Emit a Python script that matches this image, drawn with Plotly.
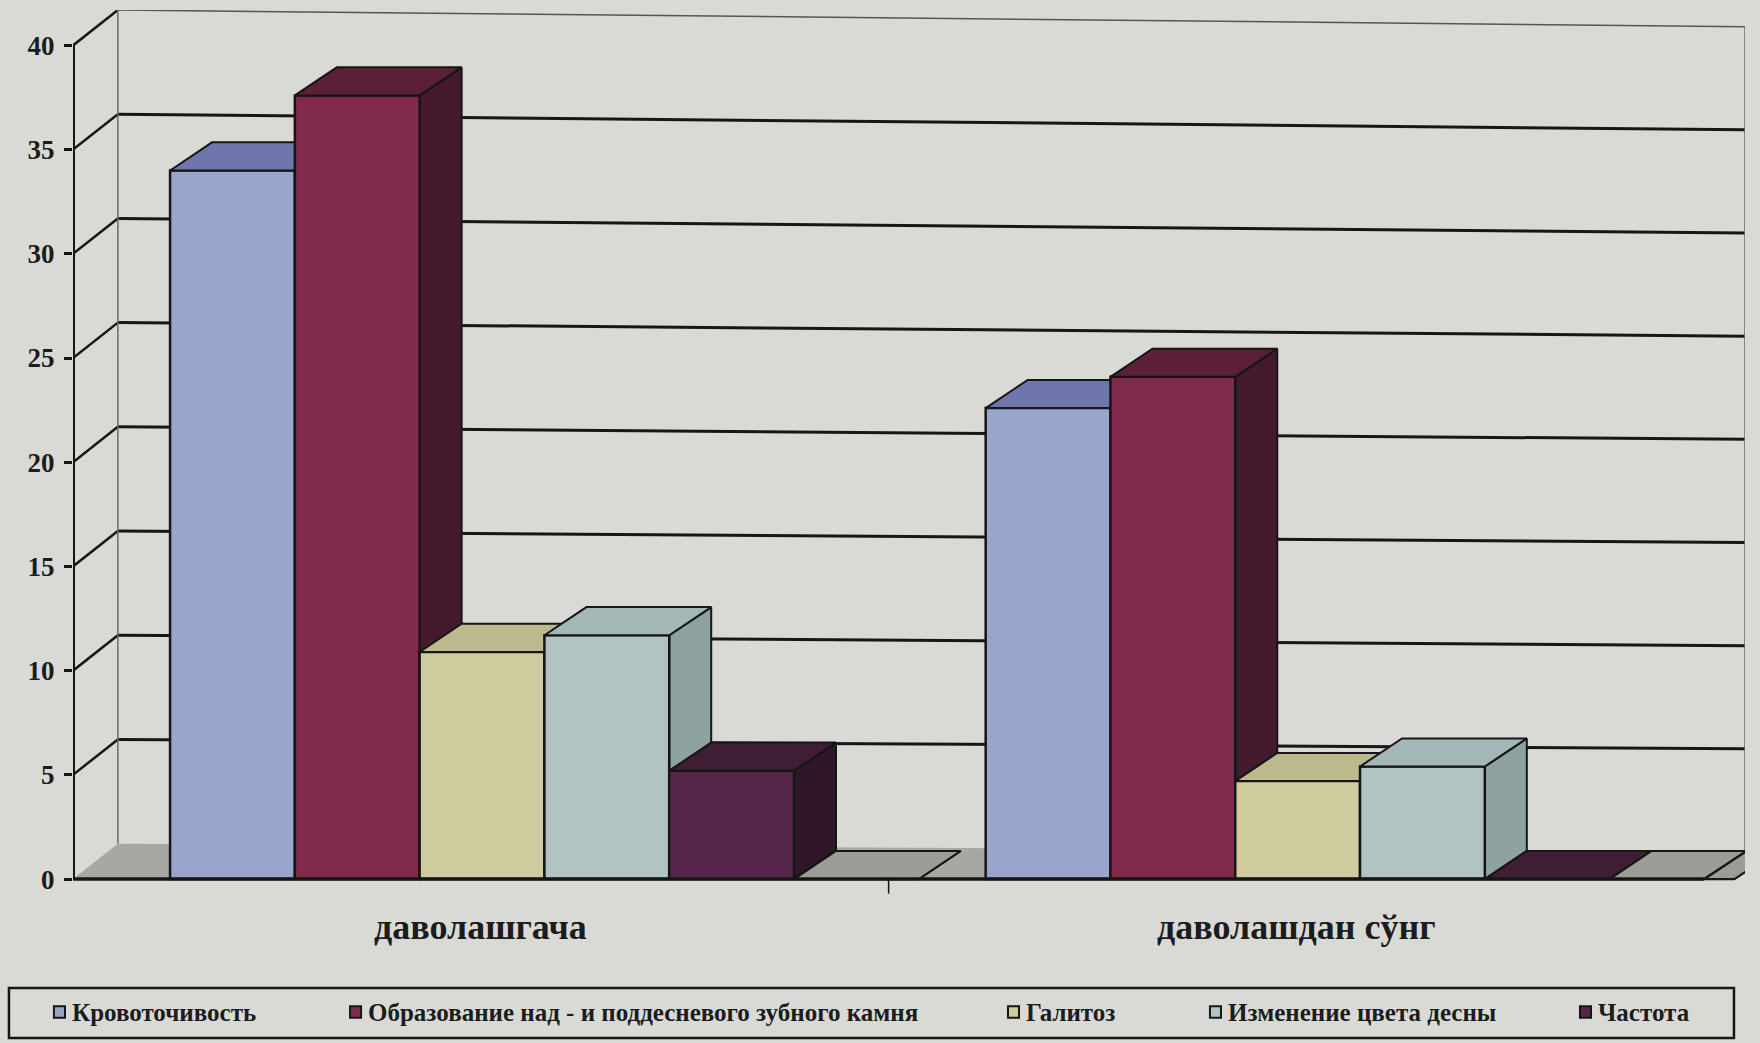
import plotly.graph_objects as go

# ---------------- data ----------------
categories = ["даволашгача", "даволашдан сўнг"]
series_names = [
    "Кровоточивость",
    "Образование над - и поддесневого зубного камня",
    "Галитоз",
    "Изменение цвета десны",
    "Частота",
    "Прочее",
]
bleeding = [34.0, 22.6]
calculus = [37.6, 24.1]
halitosis = [10.9, 4.7]
gum_colour = [11.7, 5.4]
fifth_series = [5.2, 0.0]
sixth_series = [0.0, 0.0]
y_ticks = [0, 5, 10, 15, 20, 25, 30, 35, 40]
legend_count = 5  # series shown in the legend

series_values = [bleeding, calculus, halitosis, gum_colour, fifth_series, sixth_series]

# ---------------- style ----------------
front_colors = ["#9aa5cc", "#822a4c", "#cfcda0", "#b1c4c2", "#55264a", "#a4a4a0"]
top_colors = ["#6f75ad", "#5c1f38", "#bdbb8e", "#a3b8b6", "#3f1d35", "#9c9c98"]
side_colors = ["#676c9c", "#441a2c", "#a4a37c", "#8ea3a1", "#2f1628", "#7e7e7a"]
edge = "#161616"
bg = "#d9dad6"
serif = "Liberation Serif, Times New Roman, serif"

BAR_START, BAR_W = 0.119, 0.153
DX, DY = 0.0515, 1.35
WALL_DX, WALL_DY_L, WALL_DY_R, WALL_SCALE_R = 0.055, 1.7, 1.3, 0.99
X_FRONT_END, X_WALL_R = 2.0, 2.05

fig = go.Figure()

for s, vals in enumerate(series_values):
    xs = [ci + BAR_START + BAR_W * (s + 0.5) for ci in range(len(categories))]
    side_x, side_y, top_x, top_y = [], [], [], []
    for xc, v in zip(xs, vals):
        x0, x1 = xc - BAR_W / 2, xc + BAR_W / 2
        side_x += [x1, x1, x1 + DX, x1 + DX, x1, None]
        side_y += [0, v, v + DY, DY, 0, None]
        top_x += [x0, x1, x1 + DX, x0 + DX, x0, None]
        top_y += [v, v, v + DY, v + DY, v, None]
    fig.add_trace(go.Scatter(x=side_x, y=side_y, fill="toself", mode="lines",
                             fillcolor=side_colors[s], line=dict(color=edge, width=2),
                             showlegend=False, hoverinfo="skip", zorder=3 * s))
    fig.add_trace(go.Bar(x=xs, y=vals, width=BAR_W, name=series_names[s],
                         marker=dict(color=front_colors[s], line=dict(color=edge, width=2.5)),
                         showlegend=False, zorder=3 * s + 1))
    fig.add_trace(go.Scatter(x=top_x, y=top_y, fill="toself", mode="lines",
                             fillcolor=top_colors[s], line=dict(color=edge, width=2),
                             showlegend=False, hoverinfo="skip", zorder=3 * s + 2))

shapes = []
# floor
shapes.append(dict(type="path", layer="below", xref="x", yref="y",
                   path=f"M 0 0 L {X_FRONT_END} 0 L {X_WALL_R} {WALL_DY_R} L {WALL_DX} {WALL_DY_L} Z",
                   fillcolor="#a7a7a3", line=dict(width=0)))
# back wall gridlines + connectors
for v in y_ticks[1:]:
    yl = WALL_DY_L + v
    yr = WALL_DY_R + v * WALL_SCALE_R
    w = 1.5 if v == y_ticks[-1] else 3
    col = "#555555" if v == y_ticks[-1] else edge
    shapes.append(dict(type="line", layer="below", xref="x", yref="y",
                       x0=WALL_DX, y0=yl, x1=X_WALL_R, y1=yr, line=dict(color=col, width=w)))
    shapes.append(dict(type="line", layer="below", xref="x", yref="y",
                       x0=0, y0=v, x1=WALL_DX, y1=yl, line=dict(color=edge, width=2.5)))
# wall edges
shapes.append(dict(type="line", layer="below", xref="x", yref="y",
                   x0=WALL_DX, y0=WALL_DY_L, x1=WALL_DX, y1=WALL_DY_L + y_ticks[-1],
                   line=dict(color="#6a6a6a", width=1.5)))
shapes.append(dict(type="line", layer="below", xref="x", yref="y",
                   x0=X_WALL_R, y0=WALL_DY_R, x1=X_WALL_R, y1=WALL_DY_R + y_ticks[-1] * WALL_SCALE_R,
                   line=dict(color="#6a6a6a", width=1.5)))
# front axes
shapes.append(dict(type="line", layer="above", xref="x", yref="y",
                   x0=0, y0=0, x1=X_FRONT_END, y1=0, line=dict(color=edge, width=3.5)))
shapes.append(dict(type="line", layer="above", xref="x", yref="y",
                   x0=0, y0=0, x1=0, y1=y_ticks[-1], line=dict(color=edge, width=4)))
shapes.append(dict(type="line", layer="above", xref="x", yref="y",
                   x0=X_FRONT_END, y0=0, x1=X_WALL_R, y1=WALL_DY_R, line=dict(color=edge, width=2.5)))
shapes.append(dict(type="line", layer="above", xref="x", yref="y",
                   x0=1, y0=0, x1=1, y1=-0.7, line=dict(color=edge, width=1.5)))

annotations = []
for ci, cat in enumerate(categories):
    annotations.append(dict(x=ci + 0.5, y=-2.3, xref="x", yref="y", text=cat, showarrow=False,
                            font=dict(family=serif, size=36, weight="bold", color="#1c1c1c")))

# legend (drawn manually to match the original spacing)
leg_y0, leg_y1, leg_yc = -0.0382, -0.0913, -0.0637
shapes.append(dict(type="rect", xref="paper", yref="paper", x0=-0.0383, x1=0.9934,
                   y0=leg_y1, y1=leg_y0, line=dict(color=edge, width=2.5), fillcolor=bg, layer="above"))
leg_x = [-0.0114, 0.1657, 0.5592, 0.6800, 0.9013]
msz = 0.0066
for i in range(legend_count):
    shapes.append(dict(type="rect", xref="paper", yref="paper", layer="above",
                       x0=leg_x[i], x1=leg_x[i] + msz, y0=leg_yc - 0.0062, y1=leg_yc + 0.0062,
                       fillcolor=front_colors[i], line=dict(color=edge, width=2)))
    annotations.append(dict(x=leg_x[i] + msz + 0.003, y=leg_yc, xref="paper", yref="paper",
                            text=series_names[i], showarrow=False, xanchor="left", yanchor="middle",
                            font=dict(family=serif, size=25, weight="bold", color="#1c1c1c")))

fig.update_layout(
    width=1760, height=1043,
    margin=dict(l=73, r=15, t=10, b=91),
    paper_bgcolor=bg, plot_bgcolor=bg,
    barmode="overlay",
    showlegend=False,
    shapes=shapes,
    annotations=annotations,
    xaxis=dict(range=[0, X_WALL_R], visible=False, fixedrange=True),
    yaxis=dict(range=[-3.5, 41.7], tickvals=y_ticks, showgrid=False, zeroline=False,
               showline=False, ticks="outside", ticklen=8, tickwidth=2.5, tickcolor=edge,
               ticklabelstandoff=4,
               tickfont=dict(family=serif, size=27, weight="bold", color="#1c1c1c")),
)

fig.write_html("out.html")
